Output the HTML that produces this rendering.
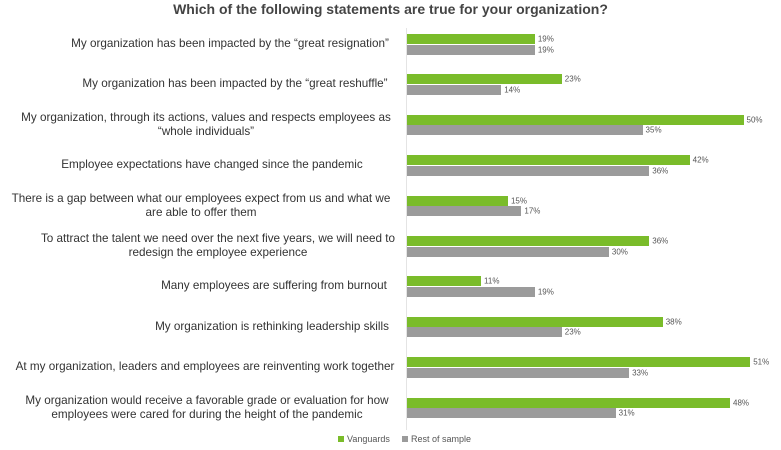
<!DOCTYPE html>
<html><head><meta charset="utf-8"><style>
body{margin:0;background:#fff;width:781px;height:450px;overflow:hidden;font-family:"Liberation Sans",sans-serif;position:relative}
.t{position:absolute;top:1px;left:0;width:781px;text-align:center;font-weight:bold;font-size:14px;color:#444}
.l{position:absolute;width:400px;text-align:center;font-size:11.7px;color:#333;line-height:14px;transform:translateY(-50%);white-space:nowrap}
.b{position:absolute;left:407px;height:10px}
.g{background:#7abc2a}.r{background:#9b9b9b}
.v{position:absolute;font-size:8px;color:#555;transform:translateY(-50%)}
.ax{position:absolute;left:406px;top:28px;width:1px;height:402px;background:#e4e4e4}
.lg{position:absolute;top:434px;font-size:9px;color:#555}
.sq{display:inline-block;width:6px;height:6px;margin-right:3px}
</style></head><body>
<div class="t">Which of the following statements are true for your organization?</div>
<div class="ax"></div>
<div id="c"></div>
<div class="lg" style="left:338px"><span class="sq g"></span>Vanguards</div>
<div class="lg" style="left:402px"><span class="sq r"></span>Rest of sample</div>
<script>
var d=[["My organization has been impacted by the “great resignation”",19,19,230],
["My organization has been impacted by the “great reshuffle”",23,14,235],
["My organization, through its actions, values and respects employees as<br>“whole individuals”",50,35,206],
["Employee expectations have changed since the pandemic",42,36,212],
["There is a gap between what our employees expect from us and what we<br>are able to offer them",15,17,201],
["To attract the talent we need over the next five years, we will need to<br>redesign the employee experience",36,30,218],
["Many employees are suffering from burnout",11,19,274],
["My organization is rethinking leadership skills",38,23,272],
["At my organization, leaders and employees are reinventing work together",51,33,205],
["My organization would receive a favorable grade or evaluation for how<br>employees were cared for during the height of the pandemic",48,31,207]];
var h="",s=6.73;
d.forEach(function(e,i){var y=34+i*40.4;
h+='<div class="l" style="top:'+(y+10)+'px;left:'+(e[3]-200)+'px">'+e[0]+'</div>';
h+='<div class="b g" style="top:'+y+'px;width:'+(e[1]*s)+'px"></div>';
h+='<div class="b r" style="top:'+(y+10.5)+'px;width:'+(e[2]*s)+'px"></div>';
h+='<div class="v" style="top:'+(y+5)+'px;left:'+(410+e[1]*s)+'px">'+e[1]+'%</div>';
h+='<div class="v" style="top:'+(y+15.5)+'px;left:'+(410+e[2]*s)+'px">'+e[2]+'%</div>';});
document.getElementById("c").innerHTML=h;
</script>
</body></html>
